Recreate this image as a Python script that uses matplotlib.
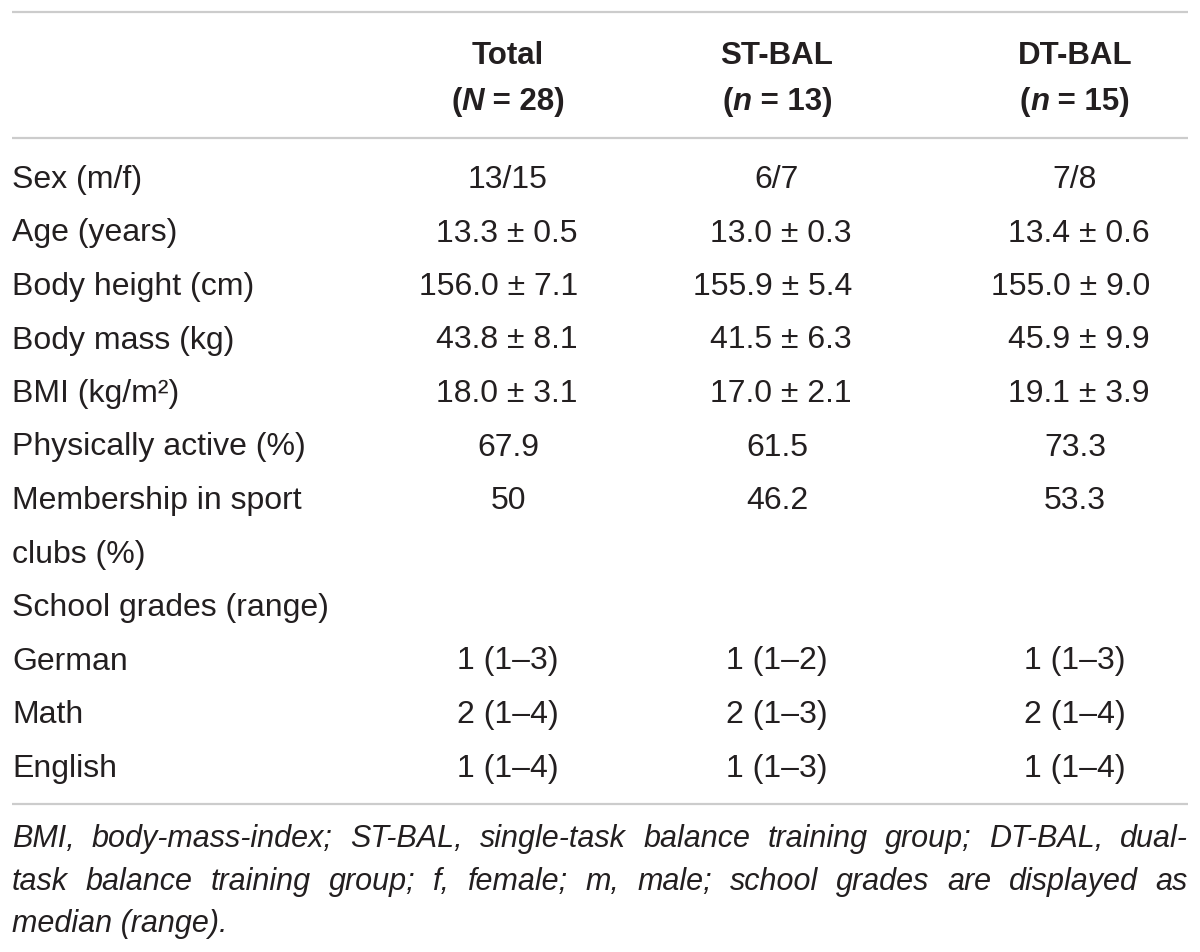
import matplotlib
matplotlib.use('Agg')
import matplotlib.pyplot as plt

# table content
row_labels = ['Sex (m/f)', 'Age (years)', 'Body height (cm)', 'Body mass (kg)',
              'BMI (kg/m\u00b2)', 'Physically active (%)',
              'Membership in sport\nclubs (%)', 'School grades (range)',
              'German', 'Math', 'English']
total = ['13/15', '13.3 \u00b1 0.5', '156.0 \u00b1 7.1', '43.8 \u00b1 8.1', '18.0 \u00b1 3.1',
         '67.9', '50', '', '1 (1\u20133)', '2 (1\u20134)', '1 (1\u20134)']
st_bal = ['6/7', '13.0 \u00b1 0.3', '155.9 \u00b1 5.4', '41.5 \u00b1 6.3', '17.0 \u00b1 2.1',
          '61.5', '46.2', '', '1 (1\u20132)', '2 (1\u20133)', '1 (1\u20133)']
dt_bal = ['7/8', '13.4 \u00b1 0.6', '155.0 \u00b1 9.0', '45.9 \u00b1 9.9', '19.1 \u00b1 3.9',
          '73.3', '53.3', '', '1 (1\u20133)', '2 (1\u20134)', '1 (1\u20134)']
col_titles = ['Total', 'ST-BAL', 'DT-BAL']
col_n = [('N', '28'), ('n', '13'), ('n', '15')]
fn_lines = [
    'BMI, body-mass-index; ST-BAL, single-task balance training group; DT-BAL, dual-',
    'task balance training group; f, female; m, male; school grades are displayed as',
    'median (range).',
]

TXT = '#231f20'
LINE = '#cccccc'
FONT = 'Liberation Sans'
FS = 23
HFS = 22.5
NFS = 22

fig = plt.figure(figsize=(12, 9.52), dpi=100)
ax = fig.add_axes([0, 0, 1, 1])
ax.set_xlim(0, 1200)
ax.set_ylim(952, 0)
ax.axis('off')
r = fig.canvas.get_renderer()

for y in [12, 138, 804]:
    ax.plot([12, 1188], [y, y], color=LINE, lw=1.6, solid_capstyle='butt')

centers = [508, 777, 1075]
rights = [578, 852, 1150]


def seq(x, y, parts):
    # bold run with mixed italic, centred on x
    objs = []
    for s, st in parts:
        objs.append(ax.text(0, y, s, fontsize=HFS, fontweight='bold', style=st,
                            family=FONT, color=TXT, va='baseline', ha='left'))
    ws = [o.get_window_extent(r).width for o in objs]
    x0 = x - sum(ws) / 2
    for o, w in zip(objs, ws):
        o.set_x(x0)
        x0 += w


for cx, title, (sym, num) in zip(centers, col_titles, col_n):
    ax.text(cx, 64, title, fontsize=HFS, fontweight='bold', family=FONT, color=TXT,
            ha='center', va='baseline')
    seq(cx, 110, [('(', 'normal'), (sym, 'italic'), (' = ' + num + ')', 'normal')])

# body rows (membership label takes two lines)
line_base = [188 + k * 53.5 for k in range(12)]
k = 0
for i, lab in enumerate(row_labels):
    yb = line_base[k]
    parts = lab.split('\n')
    for p, part in enumerate(parts):
        ax.text(12, line_base[k + p], part, fontsize=FS, family=FONT, color=TXT,
                ha='left', va='baseline')
    for j, col in enumerate([total, st_bal, dt_bal]):
        v = col[i]
        if '\u00b1' in v:
            ax.text(rights[j], yb, v, fontsize=FS, family=FONT, color=TXT,
                    ha='right', va='baseline')
        else:
            ax.text(centers[j], yb, v, fontsize=FS, family=FONT, color=TXT,
                    ha='center', va='baseline')
    k += len(parts)

# footnote, justified
fn_base = [847, 890, 932]
for n, (line, yb) in enumerate(zip(fn_lines, fn_base)):
    if n == len(fn_lines) - 1:
        ax.text(12, yb, line, fontsize=NFS, style='italic', family=FONT, color=TXT,
                ha='left', va='baseline')
        continue
    words = line.split(' ')
    objs = [ax.text(0, yb, w, fontsize=NFS, style='italic', family=FONT, color=TXT,
                    ha='left', va='baseline') for w in words]
    ws = [o.get_window_extent(r).width for o in objs]
    gap = (1188 - 12 - sum(ws)) / (len(words) - 1)
    x0 = 12
    for o, w in zip(objs, ws):
        o.set_x(x0)
        x0 += w + gap

fig.savefig('out.png', dpi=100, facecolor='white')
